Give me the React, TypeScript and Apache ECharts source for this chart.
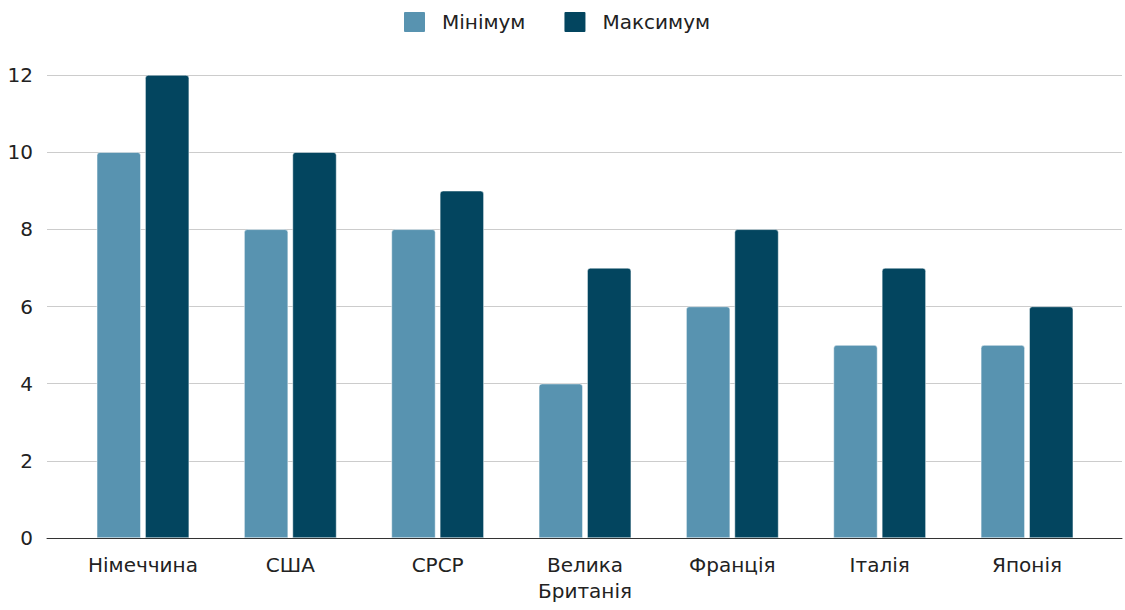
import React, { useEffect, useRef } from "react";
import * as echarts from "echarts";

const categories = ["Німеччина", "США", "СРСР", "Велика\nБританія", "Франція", "Італія", "Японія"];
const minValues = [10, 8, 8, 4, 6, 5, 5];
const maxValues = [12, 10, 9, 7, 8, 7, 6];
const seriesNames = ["Мінімум", "Максимум"];
const yTicks = { min: 0, max: 12, interval: 2 };

export default function App() {
  const ref = useRef<HTMLDivElement>(null);
  useEffect(() => {
    if (!ref.current) return;
    const chart = echarts.init(ref.current, undefined, { renderer: "svg" });
    const font = "'DejaVu Sans', sans-serif";
    chart.setOption({
      animation: false,
      textStyle: { fontFamily: font },
      legend: {
        data: seriesNames,
        top: 10,
        padding: 0,
        left: 402,
        itemWidth: 23,
        itemHeight: 22,
        itemGap: 37,
        icon: "path://M2,0 L21,0 Q23,0 23,2 L23,20 Q23,22 21,22 L2,22 Q0,22 0,20 L0,2 Q0,0 2,0 Z",
        textStyle: { fontSize: 20, color: "#222", fontFamily: font, padding: [0, 0, 0, 11] },
      },
      grid: [
        { left: 47, right: 3, top: 75, bottom: 72 },
        { left: 69.3, right: 24.3, top: 75, bottom: 72 },
      ],
      xAxis: [
        {
          gridIndex: 0,
          type: "value",
          min: 0,
          max: 1,
          axisLabel: { show: false },
          axisTick: { show: false },
          splitLine: { show: false },
          axisLine: { show: true, lineStyle: { color: "#333", width: 1 } },
          z: 5,
        },
        {
          gridIndex: 1,
          type: "category",
          data: categories,
          axisLine: { show: false },
          axisTick: { show: false },
          axisLabel: { fontSize: 20, color: "#222", margin: 14, lineHeight: 26, fontFamily: font },
        },
      ],
      yAxis: [
        {
          gridIndex: 0,
          type: "value",
          min: yTicks.min,
          max: yTicks.max,
          interval: yTicks.interval,
          axisLine: { show: false },
          axisTick: { show: false },
          axisLabel: { fontSize: 20, color: "#222", margin: 14, fontFamily: font },
          splitLine: { lineStyle: { color: "#cccccc", width: 1 } },
        },
        {
          gridIndex: 1,
          type: "value",
          min: yTicks.min,
          max: yTicks.max,
          interval: yTicks.interval,
          show: false,
          splitLine: { show: false },
        },
      ],
      series: [
        {
          name: seriesNames[0],
          type: "bar",
          xAxisIndex: 1,
          yAxisIndex: 1,
          data: minValues,
          barWidth: 44,
          barGap: "10%",
          itemStyle: { color: "#5893b0", borderRadius: [3, 3, 0, 0], borderColor: "#ffffff", borderWidth: 0.5 },
        },
        {
          name: seriesNames[1],
          type: "bar",
          xAxisIndex: 1,
          yAxisIndex: 1,
          data: maxValues,
          barWidth: 44,
          barGap: "10%",
          itemStyle: { color: "#03455f", borderRadius: [3, 3, 0, 0], borderColor: "#ffffff", borderWidth: 0.5 },
        },
      ],
    });
    return () => chart.dispose();
  }, []);
  return <div ref={ref} style={{ width: 1125, height: 610, position: "absolute", left: 0, top: 0 }} />;
}
